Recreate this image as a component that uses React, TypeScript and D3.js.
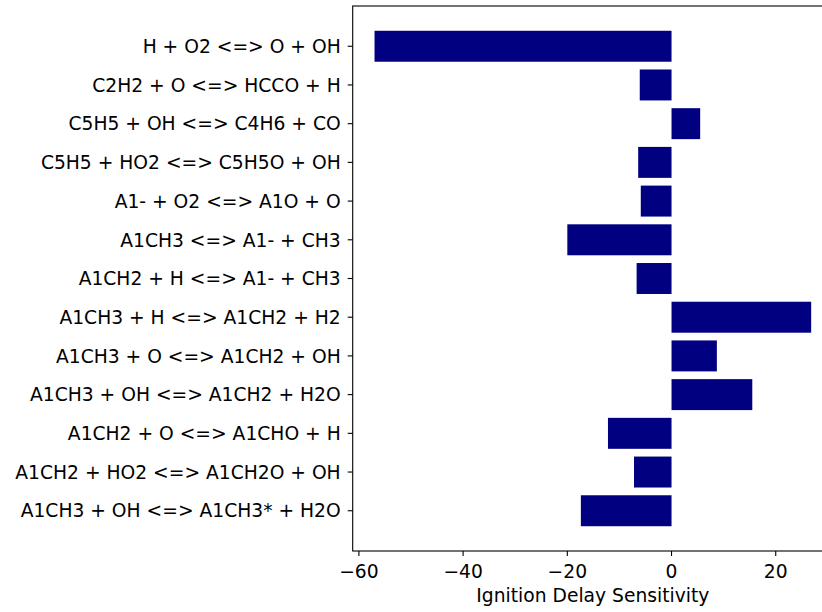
import { useRef, useEffect } from 'react';
import * as d3 from 'd3';

const reactions = [
  'H + O2 <=> O + OH',
  'C2H2 + O <=> HCCO + H',
  'C5H5 + OH <=> C4H6 + CO',
  'C5H5 + HO2 <=> C5H5O + OH',
  'A1- + O2 <=> A1O + O',
  'A1CH3 <=> A1- + CH3',
  'A1CH2 + H <=> A1- + CH3',
  'A1CH3 + H <=> A1CH2 + H2',
  'A1CH3 + O <=> A1CH2 + OH',
  'A1CH3 + OH <=> A1CH2 + H2O',
  'A1CH2 + O <=> A1CHO + H',
  'A1CH2 + HO2 <=> A1CH2O + OH',
  'A1CH3 + OH <=> A1CH3* + H2O',
];

const sensitivity = [-57.0, -6.1, 5.5, -6.4, -5.9, -20.0, -6.7, 26.8, 8.7, 15.5, -12.2, -7.2, -17.4];

const xTicks = [-60, -40, -20, 0, 20];

export default function App() {
  const svgRef = useRef<SVGSVGElement>(null);

  useEffect(() => {
    document.body.style.margin = '0';
    if (!svgRef.current) return;
    const svg = d3.select(svgRef.current);
    svg.selectAll('*').remove();

    const left = 352.7;
    const right = 833;
    const top = 6;
    const bottom = 551;
    const font = 'DejaVu Sans, sans-serif';
    const fs = '18.7px';

    const lo = d3.min(sensitivity) ?? 0;
    const hi = d3.max(sensitivity) ?? 0;
    const pad = (hi - lo) * 0.05;
    const x = d3.scaleLinear().domain([lo - pad, hi + pad]).range([left, right]);

    const n = reactions.length;
    const yPad = (n - 1 + 0.8) * 0.05;
    // index 0 at top, like barh with an inverted axis
    const y = d3.scaleLinear().domain([-0.4 - yPad, n - 1 + 0.4 + yPad]).range([top, bottom]);
    const bh = y(0.8) - y(0);

    svg.append('g')
      .selectAll('rect')
      .data(sensitivity)
      .join('rect')
      .attr('x', (d) => x(Math.min(0, d)))
      .attr('width', (d) => Math.abs(x(d) - x(0)))
      .attr('y', (_, i) => y(i) - bh / 2)
      .attr('height', bh)
      .attr('fill', '#000080');

    // frame
    svg.append('rect')
      .attr('x', left).attr('y', top)
      .attr('width', right - left).attr('height', bottom - top)
      .attr('fill', 'none').attr('stroke', '#000').attr('stroke-width', 1.1);

    // y ticks + labels
    const yg = svg.append('g');
    reactions.forEach((r, i) => {
      yg.append('line')
        .attr('x1', left - 5).attr('x2', left)
        .attr('y1', y(i)).attr('y2', y(i))
        .attr('stroke', '#000').attr('stroke-width', 1.1);
      yg.append('text')
        .attr('x', left - 12).attr('y', y(i))
        .attr('dy', '0.36em')
        .attr('text-anchor', 'end')
        .style('font-family', font).style('font-size', fs)
        .text(r);
    });

    // x ticks + labels
    const xg = svg.append('g');
    xTicks.forEach((t) => {
      xg.append('line')
        .attr('x1', x(t)).attr('x2', x(t))
        .attr('y1', bottom).attr('y2', bottom + 5)
        .attr('stroke', '#000').attr('stroke-width', 1.1);
      xg.append('text')
        .attr('x', x(t)).attr('y', 578)
        .attr('text-anchor', 'middle')
        .style('font-family', font).style('font-size', fs)
        .text(t < 0 ? `\u2212${Math.abs(t)}` : `${t}`);
    });

    svg.append('text')
      .attr('x', (left + right) / 2).attr('y', 601.5)
      .attr('text-anchor', 'middle')
      .style('font-family', font).style('font-size', fs)
      .text('Ignition Delay Sensitivity');
  }, []);

  return <svg ref={svgRef} width={822} height={612} style={{ display: 'block', background: '#fff' }} />;
}
